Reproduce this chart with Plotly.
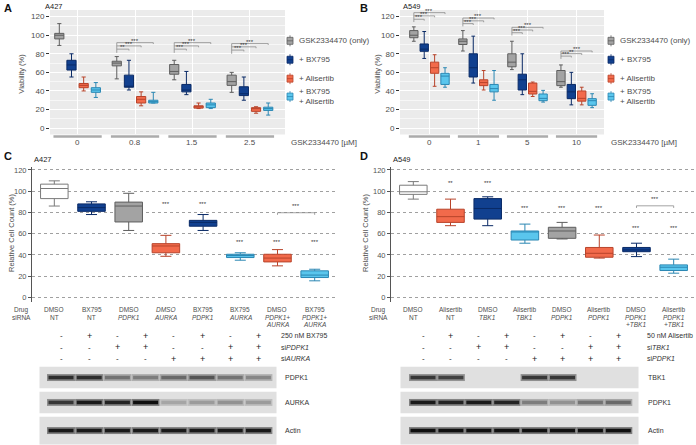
import plotly.graph_objects as go

W, H = 696, 445


def px(x):
    return x / W


def py(y):
    return 1 - y / H


FONT = "Liberation Sans, Arial, sans-serif"
TXT = "#4d4d4d"
DARK = "#333333"

# ------------------------------------------------------------------ data
A_groups = ["0", "0.8", "1.5", "2.5"]
B_groups = ["0", "1", "5", "10"]
series_names = ["GSK2334470 (only)", "+ BX795", "+ Alisertib", "+ BX795<br>+ Alisertib"]

# each box: [lower whisker, q1, median, q3, upper whisker], one per dose group
A_gsk = [[89, 96, 100, 102, 112.5], [53, 67, 70, 72, 77], [52, 58, 61, 68.5, 73], [38.5, 46, 50, 57, 60]]
A_bx = [[55, 62.5, 68, 73, 80], [41, 44, 45, 57, 73], [36, 39, 41, 47, 61], [30, 35, 37, 44.5, 55]]
A_ali = [[40, 43.5, 46, 48, 55], [24, 27, 31, 34, 39], [21, 21.5, 23, 24, 27], [16, 18, 21, 22, 23]]
A_combo = [[33, 38.5, 41, 43.5, 49], [27, 27, 28.5, 30, 38.5], [21, 22, 25, 27, 31], [14, 19, 21, 22.5, 27]]

B_gsk = [[93.5, 97.3, 100, 105, 109], [83, 90, 93.5, 96, 105], [63, 66, 71, 80, 93.5], [44, 45.7, 50, 62, 68]]
B_bx = [[75, 82.7, 85, 90.6, 104], [48.5, 55, 65, 80, 99], [36, 41, 52, 58, 80], [25, 31.7, 39, 47, 60]]
B_ali = [[45, 59, 65, 71, 79], [41, 45.7, 49, 52, 62], [34, 36.7, 39.5, 48.5, 49.6], [25, 29, 32, 40, 44]]
B_combo = [[44, 47, 56, 59, 65], [30, 39, 42.5, 47, 62], [28, 29.5, 32, 36.7, 40.6], [22, 24.5, 29.5, 31.7, 37]]

# significance of each treatment vs GSK only (bx, ali, combo) and bracket heights
A_sig = [None, ["**", "***", "***"], ["***", "***", "***"], ["***", "***", "***"]]
A_sig_y = [None, [85, 88.5, 92], [85, 88.5, 92], [84, 87.5, 91]]
B_sig = [["***", "***", "***"], ["***", "***", "***"], ["***", "***", "***"], ["***", "**", "***"]]
B_sig_y = [[117.2, 120.8, 124.3], [112.5, 115.5, 118.5], [102.7, 105.6, 108.5], [77.5, 80.2, 83]]

C_drug = ["DMSO", "BX795", "DMSO", "<i>DMSO</i>", "BX795", "BX795", "DMSO", "BX795"]
C_sirna = ["NT", "NT", "<i>PDPK1</i>", "<i>AURKA</i>", "<i>PDPK1</i>", "<i>AURKA</i>", "<i>PDPK1+</i>", "<i>PDPK1+</i>"]
C_sirna2 = ["", "", "", "", "", "", "<i>AURKA</i>", "<i>AURKA</i>"]
C_stats = [[86, 93, 102.5, 106.6, 109.7], [78, 81, 84.5, 88, 90], [63, 71, 86, 89.7, 98],
           [38.7, 42, 48.4, 50.6, 58.4], [63, 67, 70.6, 72.5, 78], [35, 37.5, 39.4, 40.6, 42],
           [29.7, 33.4, 37, 40.6, 45], [15.6, 18.7, 21, 25, 26.5]]
C_sig = ["", "", "", "***", "***", "***", "***", "***"]
C_sig_y = [0, 0, 0, 87.5, 87.5, 52, 52, 52]
C_pair = [6, 7, "***", 79.7]

D_drug = ["DMSO", "Alisertib", "DMSO", "Alisertib", "DMSO", "Alisertib", "DMSO", "Alisertib"]
D_sirna = ["NT", "NT", "<i>TBK1</i>", "<i>TBK1</i>", "<i>PDPK1</i>", "<i>PDPK1</i>", "<i>PDPK1</i>", "<i>PDPK1</i>"]
D_sirna2 = ["", "", "", "", "", "", "<i>+TBK1</i>", "<i>+TBK1</i>"]
D_stats = [[92.5, 97, 99.4, 105.6, 109], [67.5, 70.6, 76, 83, 92.5], [67.5, 73.7, 83.7, 93, 94.7],
           [51, 54, 62, 62.5, 69], [55, 55.6, 62.5, 66, 70.6], [37, 37.8, 41.5, 47, 58.7],
           [38.4, 43, 44.7, 47, 51], [22.8, 25.3, 28.4, 30.6, 36]]
D_sig = ["", "**", "***", "***", "***", "***", "***", "***"]
D_sig_y = [0, 107.5, 107.5, 84.4, 84.4, 84.4, 65, 65]
D_pair = [6, 7, "***", 86.2]

C_rows = ["250 nM BX795", "si<i>PDPK1</i>", "si<i>AURKA</i>"]
C_table = [[0, 1, 0, 1, 0, 1, 0, 1], [0, 0, 1, 1, 0, 0, 1, 1], [0, 0, 0, 0, 1, 1, 1, 1]]
D_rows = ["50 nM Alisertib", "si<i>TBK1</i>", "si<i>PDPK1</i>"]
D_table = [[0, 1, 0, 1, 0, 1, 0, 1], [0, 0, 1, 1, 0, 0, 1, 1], [0, 0, 0, 0, 1, 1, 1, 1]]

C_blot_names = ["PDPK1", "AURKA", "Actin"]
C_blot = [[0.85, 0.85, 0.5, 0.45, 0.55, 0.65, 0.5, 0.4],
          [0.8, 0.95, 0.9, 1.0, 0.25, 0.3, 0.35, 0.3],
          [0.95, 0.95, 0.95, 0.95, 0.95, 0.95, 0.95, 0.95]]
D_blot_names = ["TBK1", "PDPK1", "Actin"]
D_blot = [[0.8, 0.75, 0, 0, 0.8, 0.8, 0, 0],
          [0.95, 0.9, 0.95, 0.9, 0.45, 0.35, 0.5, 0.55],
          [1.0, 1.0, 1.0, 1.0, 1.0, 1.0, 1.0, 1.0]]

# ------------------------------------------------------------------ styles
GRAYF, NAVYF, ORANF, CYANF = "#a3a3a3", "#11408f", "#f26a4b", "#5ac6ed"
GRAYL, NAVYL, ORANL, CYANL = "#5e5e5e", "#0a2a66", "#b8442b", "#2b87b3"
FILL = [GRAYF, NAVYF, ORANF, CYANF]
EDGE = [GRAYL, NAVYL, ORANL, CYANL]
C_fill = ["#ffffff", NAVYF, GRAYF, ORANF, NAVYF, CYANF, ORANF, CYANF]
C_edge = ["#7a7a7a", NAVYL, GRAYL, ORANL, NAVYL, CYANL, ORANL, CYANL]
D_fill = ["#ffffff", ORANF, NAVYF, CYANF, GRAYF, ORANF, NAVYF, CYANF]
D_edge = ["#7a7a7a", ORANL, NAVYL, CYANL, GRAYL, ORANL, NAVYL, CYANL]

STEP = 0.212

fig = go.Figure()
shapes = []
ann = []


def note(x, y, text, size, color=TXT, xref="paper", yref="paper", xanchor="center",
         yanchor="middle", **kw):
    d = dict(xref=xref, yref=yref, x=x, y=y, text=text, showarrow=False,
             xanchor=xanchor, yanchor=yanchor, font=dict(size=size, color=color))
    d.update(kw)
    ann.append(d)


def add_grouped(series, xa, ya, bw):
    for k, stats in enumerate(series):
        xs = [g + (k - 1.5) * STEP for g in range(len(stats))]
        fig.add_trace(go.Box(
            x=xs,
            lowerfence=[s[0] for s in stats], q1=[s[1] for s in stats],
            median=[s[2] for s in stats], q3=[s[3] for s in stats],
            upperfence=[s[4] for s in stats],
            width=bw, fillcolor=FILL[k], line=dict(color=EDGE[k], width=1),
            whiskerwidth=0.45, name=series_names[k], showlegend=False,
            xaxis=xa, yaxis=ya, boxpoints=False, hoverinfo="skip"))


def add_sig(sig, sig_y, xa, ya, drop):
    for g, (stars, levels) in enumerate(zip(sig, sig_y)):
        if stars is None:
            continue
        x0 = g - 1.5 * STEP
        shapes.append(dict(type="line", xref=xa, yref=ya, x0=x0, x1=x0,
                           y0=levels[2], y1=levels[0] - drop, line=dict(color="#8c8c8c", width=0.8)))
        for j in range(3):
            x1 = g + (j + 1 - 1.5) * STEP
            shapes.append(dict(type="line", xref=xa, yref=ya, x0=x0, x1=x1,
                               y0=levels[j], y1=levels[j], line=dict(color="#8c8c8c", width=0.8)))
            shapes.append(dict(type="line", xref=xa, yref=ya, x0=x1, x1=x1,
                               y0=levels[j], y1=levels[j] - 1.5, line=dict(color="#8c8c8c", width=0.8)))
            note((x0 + x1) / 2, levels[j], stars[j], 6, DARK, xref=xa, yref=ya,
                 yanchor="bottom", yshift=-3)


add_grouped([A_gsk, A_bx, A_ali, A_combo], "x", "y", 0.16)
add_grouped([B_gsk, B_bx, B_ali, B_combo], "x2", "y2", 0.17)
add_sig(A_sig, A_sig_y, "x", "y", 4)
add_sig(B_sig, B_sig_y, "x2", "y2", 3)


def add_single(stats, fills, edges, xa, ya):
    for i, s in enumerate(stats):
        fig.add_trace(go.Box(
            x=[i], lowerfence=[s[0]], q1=[s[1]], median=[s[2]], q3=[s[3]], upperfence=[s[4]],
            width=0.74, fillcolor=fills[i], line=dict(color=edges[i], width=1),
            whiskerwidth=0.4, showlegend=False, xaxis=xa, yaxis=ya,
            boxpoints=False, hoverinfo="skip"))


add_single(C_stats, C_fill, C_edge, "x3", "y3")
add_single(D_stats, D_fill, D_edge, "x4", "y4")


def add_cd_sig(sig, sig_y, pair, xa, ya):
    for i, (s, yv) in enumerate(zip(sig, sig_y)):
        if s:
            note(i, yv, s, 6, DARK, xref=xa, yref=ya)
    a, b, s, yv = pair
    shapes.append(dict(type="path", xref=xa, yref=ya,
                       path=f"M{a},{yv - 2} L{a},{yv} L{b},{yv} L{b},{yv - 2}",
                       line=dict(color="#8c8c8c", width=0.8)))
    note((a + b) / 2, yv + 6.5, s, 6, DARK, xref=xa, yref=ya)


add_cd_sig(C_sig, C_sig_y, C_pair, "x3", "y3")
add_cd_sig(D_sig, D_sig_y, D_pair, "x4", "y4")

# grey panel backgrounds for A and B
A_dom = ([px(50), px(285)], [py(133), py(8)])
B_dom = ([px(400), px(604)], [py(133), py(8)])
for dx, dy in (A_dom, B_dom):
    shapes.append(dict(type="rect", xref="paper", yref="paper", x0=dx[0], x1=dx[1],
                       y0=dy[0], y1=dy[1], fillcolor="#ebebeb", line=dict(width=0), layer="below"))

# manual legends (mini box keys) for A and B
leg_y = [39, 58, 77, 95]
for sym_x in (290, 611):
    for k, (name, yy) in enumerate(zip(series_names, leg_y)):
        shapes.append(dict(type="line", xref="paper", yref="paper", x0=px(sym_x), x1=px(sym_x),
                           y0=py(yy + 5.5), y1=py(yy - 5.5), line=dict(color=EDGE[k], width=0.8)))
        shapes.append(dict(type="rect", xref="paper", yref="paper", x0=px(sym_x - 3),
                           x1=px(sym_x + 3), y0=py(yy + 3.5), y1=py(yy - 3.5),
                           fillcolor=FILL[k], line=dict(color=EDGE[k], width=0.8)))
        shapes.append(dict(type="line", xref="paper", yref="paper", x0=px(sym_x - 3),
                           x1=px(sym_x + 3), y0=py(yy), y1=py(yy),
                           line=dict(color=EDGE[k], width=0.8)))
        note(px(sym_x + 6.5), py(yy), name, 8, xanchor="left", align="left")

# group under-bars and labels for A and B
for groups, xa, lab_x in ((A_groups, "x", 289), (B_groups, "x2", 609)):
    for g, name in enumerate(groups):
        shapes.append(dict(type="line", xref=xa, yref="paper", x0=g - 0.42, x1=g + 0.42,
                           y0=py(135), y1=py(135), line=dict(color="#ababab", width=2.5)))
        note(g, py(141), name, 8, xref=xa)
    note(px(lab_x), py(141), "GSK2334470 [µM]", 8, xanchor="left")

# axis titles
for x, y, t in ((22, 72, "Viability (%)"), (378, 72, "Viability (%)"),
                (12, 232, "Relative Cell Count (%)"), (366, 232, "Relative Cell Count (%)")):
    note(px(x), py(y), t, 7.5, textangle=-90)

# panel letters and cell-line titles
for x, y, t in ((2, 6, "A"), (358, 6, "B"), (2, 155, "C"), (358, 155, "D")):
    note(px(x), py(y), f"<b>{t}</b>", 11, "#111111", xanchor="left")
for x, y, t in ((43, 5, "A427"), (401, 5, "A549"), (32, 158, "A427"), (391, 158, "A549")):
    note(px(x), py(y), t, 7.5, "#222222", xanchor="left")

# category labels under C and D
for xa, drug, sirna, sirna2, lx in (("x3", C_drug, C_sirna, C_sirna2, 21),
                                    ("x4", D_drug, D_sirna, D_sirna2, 378)):
    note(px(lx), py(309), "Drug", 6.5)
    note(px(lx), py(316.5), "siRNA", 6.5)
    for i in range(8):
        for yy, t in ((309, drug[i]), (316.5, sirna[i]), (324, sirna2[i])):
            if t:
                note(i, py(yy), t, 6.5, xref=xa)

# treatment tables
C_lane = [61 + 28.2 * i for i in range(8)]
D_lane = [423 + 27.9 * i for i in range(8)]
row_y = [335.5, 347, 358.5]
for lanes, table, rows, lab_x in ((C_lane, C_table, C_rows, 279), (D_lane, D_table, D_rows, 645)):
    for r, (vals, name) in enumerate(zip(table, rows)):
        for lx, v in zip(lanes, vals):
            note(px(lx), py(row_y[r]), "+" if v else "-", 9 if v else 8, "#222222")
        note(px(lab_x), py(row_y[r]), name, 7, "#333333", xanchor="left")

# western blots
blot_rows = [(366.5, 388), (391.5, 413), (416.5, 444.5)]
for lanes, blot, names, bx0, bx1, lab_x in ((C_lane, C_blot, C_blot_names, 39.5, 276.5, 283),
                                            (D_lane, D_blot, D_blot_names, 400.5, 638.5, 646)):
    for (yt, yb), vals, name in zip(blot_rows, blot, names):
        shapes.append(dict(type="rect", xref="paper", yref="paper", x0=px(bx0), x1=px(bx1),
                           y0=py(yb), y1=py(yt), fillcolor="#e0e0e0", line=dict(width=0),
                           layer="below"))
        ym = (yt + yb) / 2
        for lx, v in zip(lanes, vals):
            if v <= 0:
                continue
            g = int(round(215 - 200 * v))
            gh = int(round(218 - 95 * v))
            shapes.append(dict(type="rect", xref="paper", yref="paper", x0=px(lx - 14),
                               x1=px(lx + 14), y0=py(ym + 3.5), y1=py(ym - 3.5),
                               fillcolor=f"rgb({gh},{gh},{gh})", line=dict(width=0), layer="below"))
            shapes.append(dict(type="rect", xref="paper", yref="paper", x0=px(lx - 12.5),
                               x1=px(lx + 12.5), y0=py(ym + 1.8), y1=py(ym - 1.8),
                               fillcolor=f"rgb({g},{g},{g})", line=dict(width=0), layer="below"))
        note(px(lab_x), py(ym), name, 7, "#333333", xanchor="left")

# ------------------------------------------------------------------ axes
ab_y = dict(range=[-6.8, 127.2], tickmode="array", tickvals=[0, 20, 40, 60, 80, 100, 120],
            ticks="outside", ticklen=3, tickcolor="#333333", tickfont=dict(size=8, color=TXT),
            showgrid=True, gridcolor="#ffffff", gridwidth=1, zeroline=False,
            minor=dict(tickvals=[10, 30, 50, 70, 90, 110], showgrid=True,
                       gridcolor="#f7f7f7", gridwidth=0.6))
ab_x = dict(tickmode="array", tickvals=[0, 1, 2, 3], showticklabels=False, ticks="",
            showgrid=True, gridcolor="#ffffff", gridwidth=1, zeroline=False)
cd_y = dict(range=[-4, 122.5], tickmode="array", tickvals=[0, 20, 40, 60, 80, 100, 120],
            ticks="outside", ticklen=3, tickcolor="#555555", tickfont=dict(size=7.5, color="#555555"),
            showline=True, linecolor="#555555", linewidth=1, showgrid=True,
            gridcolor="#a0a0a0", griddash="dot", gridwidth=1, zeroline=False)
cd_x = dict(range=[-0.6, 7.6], showticklabels=False, ticks="", showgrid=False, zeroline=False)

fig.update_layout(
    width=W, height=H, margin=dict(l=0, r=0, t=0, b=0),
    paper_bgcolor="white", plot_bgcolor="rgba(0,0,0,0)",
    font=dict(family=FONT, color=TXT), boxmode="overlay", showlegend=False,
    xaxis=dict(domain=A_dom[0], range=[-0.48, 3.61], anchor="y", **ab_x),
    yaxis=dict(domain=A_dom[1], anchor="x", **ab_y),
    xaxis2=dict(domain=B_dom[0], range=[-0.6, 3.56], anchor="y2", **ab_x),
    yaxis2=dict(domain=B_dom[1], anchor="x2", **ab_y),
    xaxis3=dict(domain=[px(32), px(337)], anchor="y3", **cd_x),
    yaxis3=dict(domain=[py(301), py(166)], anchor="x3", **cd_y),
    xaxis4=dict(domain=[px(391), px(696)], anchor="y4", **cd_x),
    yaxis4=dict(domain=[py(301), py(166)], anchor="x4", **cd_y),
    shapes=shapes, annotations=ann,
)

fig.write_html("out.html", config={"displayModeBar": False},
               post_script="document.body.style.margin='0';")
